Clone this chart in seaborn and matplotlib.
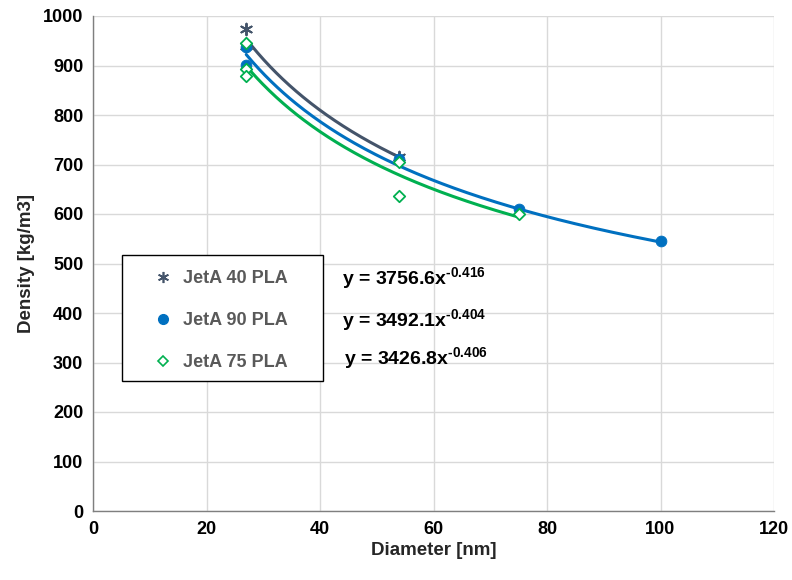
import numpy as np
import pandas as pd
import matplotlib
matplotlib.use("Agg")
import matplotlib.pyplot as plt
from matplotlib.patches import Rectangle
from matplotlib.lines import Line2D
import seaborn as sns

# ---- data ----
series_names = ["JetA 40 PLA", "JetA 90 PLA", "JetA 75 PLA"]
x_40 = [27, 27, 54]
y_40 = [974, 940, 716]
x_90 = [27, 27, 54, 75, 100]
y_90 = [938, 902, 712, 611, 545]
x_75 = [27, 27, 27, 54, 54, 75]
y_75 = [946, 893, 878, 705, 637, 600]
fit_a = [3756.6, 3492.1, 3426.8]
fit_b = [-0.416, -0.404, -0.406]
fit_range = [(27, 54), (27, 100), (27, 75)]
eq_labels = ["y = 3756.6x", "y = 3492.1x", "y = 3426.8x"]
eq_exps = ["-0.416", "-0.404", "-0.406"]

colors = ["#44546A", "#0070C0", "#00B050"]

sns.set_theme(style="white")
plt.rcParams["font.family"] = ["Liberation Sans", "DejaVu Sans"]
plt.rcParams["font.weight"] = "bold"
plt.rcParams["mathtext.fontset"] = "custom"
plt.rcParams["mathtext.rm"] = "Liberation Sans:bold"
plt.rcParams["mathtext.bf"] = "Liberation Sans:bold"
plt.rcParams["mathtext.default"] = "bf"

fig = plt.figure(figsize=(7.92, 5.80), dpi=100)
ax = fig.add_axes([93 / 792, 1 - 511 / 580, (774 - 93) / 792, (511 - 16) / 580])

pts = pd.concat([
    pd.DataFrame({"x": x_40, "y": y_40, "s": series_names[0]}),
    pd.DataFrame({"x": x_90, "y": y_90, "s": series_names[1]}),
    pd.DataFrame({"x": x_75, "y": y_75, "s": series_names[2]}),
], ignore_index=True)

# fit lines (power trend lines from the displayed equations)
for i in range(3):
    xs = np.linspace(fit_range[i][0], fit_range[i][1], 200)
    ys = fit_a[i] * xs ** fit_b[i]
    sns.lineplot(x=xs, y=ys, ax=ax, color=colors[i], lw=2.2, zorder=3)

for i, name in enumerate(series_names):
    sub = pts[pts["s"] == name]
    if i == 0:
        sns.scatterplot(data=sub, x="x", y="y", ax=ax, marker=(6, 2, 0), s=70,
                        color=colors[i], linewidth=1.4, edgecolor=colors[i], zorder=4)
    elif i == 1:
        sns.scatterplot(data=sub, x="x", y="y", ax=ax, marker="o", s=60,
                        color=colors[i], edgecolor=colors[i], zorder=4)
    else:
        sns.scatterplot(data=sub, x="x", y="y", ax=ax, marker="D", s=34,
                        facecolor="white", edgecolor=colors[i], linewidth=1.3, zorder=5)

ax.set_xlim(0, 120)
ax.set_ylim(0, 1000)
ax.set_xticks(np.arange(0, 121, 20))
ax.set_yticks(np.arange(0, 1001, 100))
ax.grid(True, color="#D9D9D9", lw=1)
ax.set_axisbelow(True)
for s in ["top", "right"]:
    ax.spines[s].set_visible(False)
for s in ["left", "bottom"]:
    ax.spines[s].set_color("#7F7F7F")
    ax.spines[s].set_linewidth(1)
ax.tick_params(axis="both", labelsize=13, colors="black", length=0, pad=7)
for lab in ax.get_xticklabels() + ax.get_yticklabels():
    lab.set_fontweight("bold")
ax.set_xlabel("Diameter [nm]", fontsize=13.5, fontweight="bold", labelpad=3)
ax.set_ylabel("Density [kg/m3]", fontsize=13.5, fontweight="bold", labelpad=6)

# legend box
def ax_x(px):
    return (px - 93) / (774 - 93)

def ax_y(py):
    return (511 - py) / (511 - 16)

rect = Rectangle((ax_x(122), ax_y(381)), ax_x(323) - ax_x(122), ax_y(255) - ax_y(381),
                 transform=ax.transAxes, facecolor="white", edgecolor="black",
                 lw=1, zorder=6)
ax.add_patch(rect)

handles = [
    Line2D([], [], ls="none", marker=(6, 2, 0), color=colors[0], markersize=8, mew=1.2),
    Line2D([], [], ls="none", marker="o", color=colors[1], markersize=7),
    Line2D([], [], ls="none", marker="D", markerfacecolor="white", markeredgecolor=colors[2],
           markersize=5.5, mew=1.2),
]
leg = ax.legend(handles, series_names, loc="upper left",
                bbox_to_anchor=(ax_x(152), ax_y(270)), frameon=False,
                fontsize=13, labelspacing=1.38, handlelength=1.2, handletextpad=0.5,
                borderpad=0, borderaxespad=0)
leg.set_zorder(7)
for t in leg.get_texts():
    t.set_color("#595959")
    t.set_fontweight("bold")

eq_pos = [(342, 278), (342, 320), (344, 358)]
for (px, py), lab, ex in zip(eq_pos, eq_labels, eq_exps):
    ax.text(ax_x(px), ax_y(py), lab + r"$^{\text{" + ex + "}}$", transform=ax.transAxes,
            fontsize=14, fontweight="bold", color="black", va="center", ha="left", zorder=8)

fig.savefig("out.png", dpi=100)
